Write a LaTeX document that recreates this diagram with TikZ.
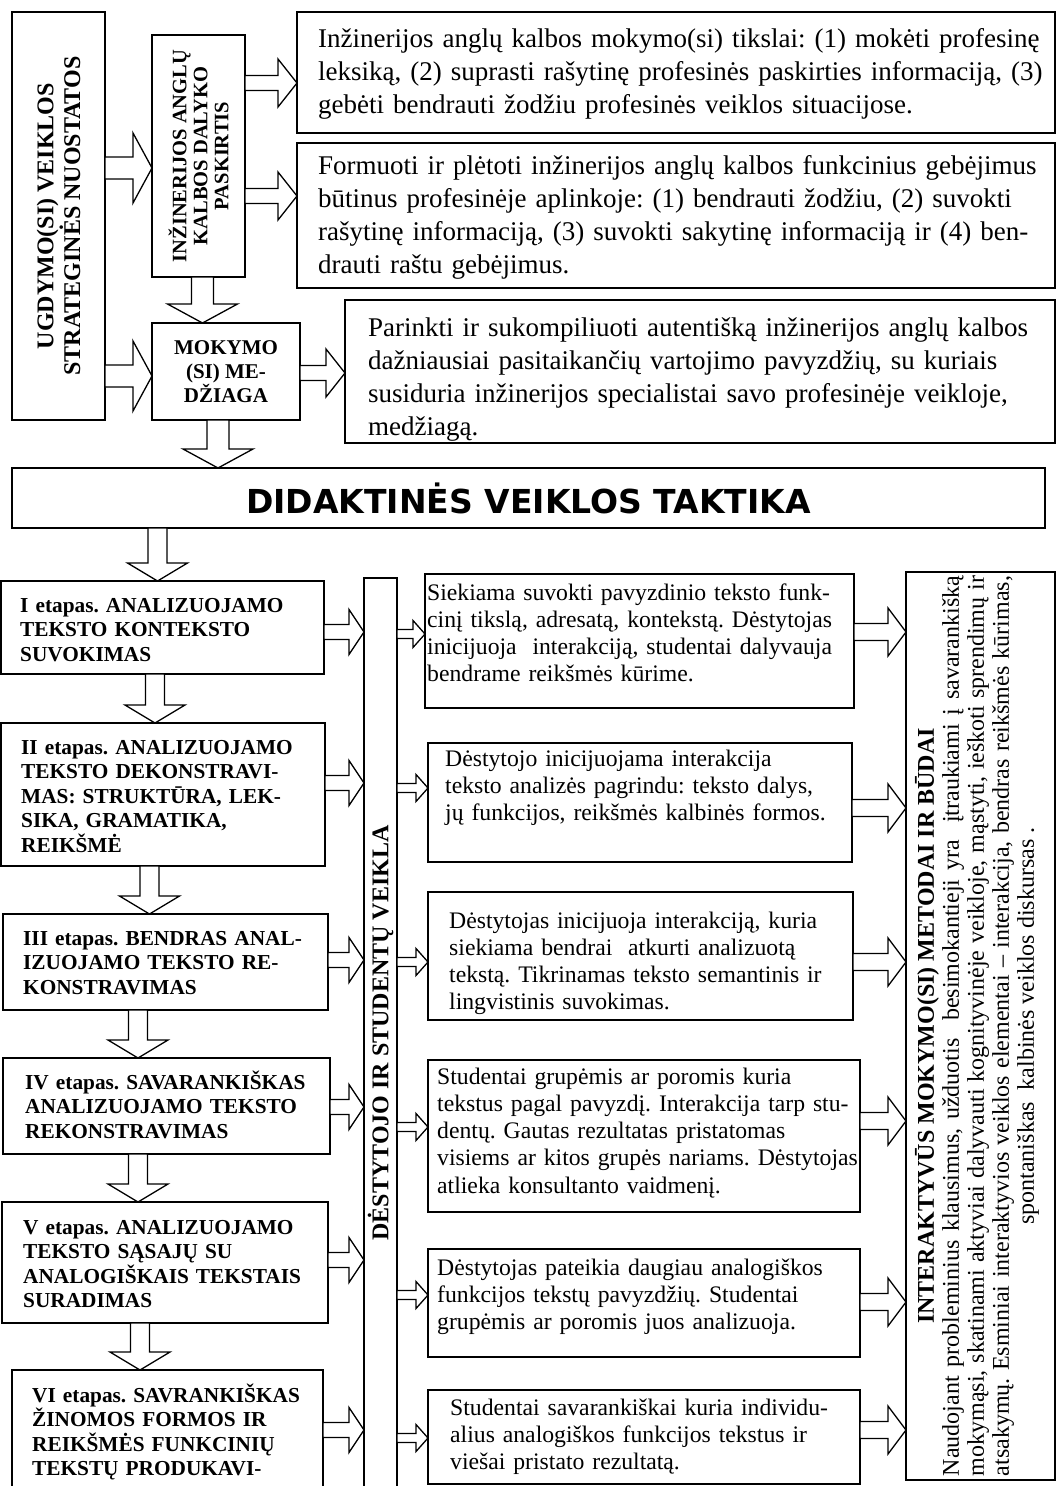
\documentclass[tikz,border=0pt]{standalone}
\usepackage{fontspec}
\setmainfont{Liberation Serif}
\newfontfamily\headfont{DejaVu Sans}
\usetikzlibrary{calc,fit}
\frenchspacing

\tikzset{
  frame/.style={draw, line width=1.4pt, inner sep=0pt, outer sep=0pt},
  body/.style={anchor=base west, inner sep=0pt, align=left},
  toptext/.style={body, text width=745pt, font=\fontsize{27}{33}\selectfont},
  stagetext/.style={body, text width=315pt, font=\bfseries\fontsize{21.3}{24.5}\selectfont},
  steptext/.style={body, text width=440pt, font=\fontsize{23.7}{27.3}\selectfont},
  sidelabel/.style={rotate=90, align=center, inner sep=0pt},
  barrow/.style n args={3}{draw, line width=1.3pt, fill=white,
    to path={($(\tikztotarget)!#3!(\tikztostart)$) coordinate (ah)
      ($(\tikztostart)!#1!90:(\tikztotarget)$) -- ($(ah)!#1!90:(\tikztotarget)$)
      -- ($(ah)!#2!90:(\tikztotarget)$) -- (\tikztotarget)
      -- ($(ah)!#2!-90:(\tikztotarget)$) -- ($(ah)!#1!-90:(\tikztotarget)$)
      -- ($(\tikztostart)!#1!-90:(\tikztotarget)$) -- cycle}},
  bigarrow/.style={barrow={11pt}{35pt}{19pt}},
  midarrow/.style={barrow={7.5pt}{24pt}{19pt}},
  downarrow/.style={barrow={9.5pt}{30pt}{18pt}},
  sidearrow/.style={barrow={7.5pt}{22.5pt}{15pt}},
  smallarrow/.style={barrow={4.5pt}{13.5pt}{12pt}},
  rightarrow/.style={barrow={8.5pt}{24pt}{18pt}},
}

\begin{document}
\begin{tikzpicture}[x=1pt, y=-1pt]
  \useasboundingbox (0,0) rectangle (1058,1486);
  \clip (0,0) rectangle (1058,1486);

  % strategic part
  \node[frame, fit={(12,12) (105,420)}] (ugd) {};
  \node[frame, fit={(152,35) (245,277)}] (ang) {};
  \node[frame, fit={(297,12) (1055,133)}] (goal) {};
  \node[frame, fit={(297,143) (1055,288)}] (skill) {};
  \node[frame, fit={(152,323) (300,420)}] (mok) {};
  \node[frame, fit={(345,300) (1055,443)}] (mat) {};
  \node[frame, fit={(12,468) (1045,528)}] (did) {};

  \node[sidelabel, font=\bfseries\fontsize{24}{23}\selectfont] (ugd-txt) at (ugd)
    {UGDYMO(SI) VEIKLOS\\STRATEGINĖS NUOSTATOS};
  \node[sidelabel, font=\bfseries\fontsize{20.5}{21}\selectfont] (ang-txt) at (ang)
    {INŽINERIJOS ANGLŲ\\KALBOS DALYKO\\PASKIRTIS};
  \node[toptext] (goal-txt) at (318,47)
    {Inžinerijos anglų kalbos mokymo(si) tikslai: (1) mokėti profesinę\\
     leksiką, (2) suprasti rašytinę profesinės paskirties informaciją, (3)\\
     gebėti bendrauti žodžiu profesinės veiklos situacijose.};
  \node[toptext] (skill-txt) at (318,174)
    {Formuoti ir plėtoti inžinerijos anglų kalbos funkcinius gebėjimus\\
     būtinus profesinėje aplinkoje: (1) bendrauti žodžiu, (2) suvokti\\
     rašytinę informaciją, (3) suvokti sakytinę informaciją ir (4) ben-\\
     drauti raštu gebėjimus.};
  \node[align=center, inner sep=0pt, font=\bfseries\fontsize{21}{24}\selectfont] (mok-txt) at (mok)
    {MOKYMO\\(SI) ME-\\DŽIAGA};
  \node[toptext] (mat-txt) at (368,336)
    {Parinkti ir sukompiliuoti autentišką inžinerijos anglų kalbos\\
     dažniausiai pasitaikančių vartojimo pavyzdžių, su kuriais\\
     susiduria inžinerijos specialistai savo profesinėje veikloje,\\
     medžiagą.};
  \node[font=\headfont\bfseries\fontsize{33}{38}\selectfont] (did-txt) at (did)
    {DIDAKTINĖS VEIKLOS TAKTIKA};

  \draw[bigarrow] (ugd.east |- 0,168) to (ang.west |- 0,168);
  \draw[bigarrow] (ugd.east |- 0,376) to (mok.west |- 0,376);
  \draw[midarrow] (ang.east |- 0,83) to (goal.west |- 0,83);
  \draw[midarrow] (ang.east |- 0,196) to (skill.west |- 0,196);
  \draw[bigarrow] (ang.south -| 202.5,0) to (mok.north -| 202.5,0);
  \draw[midarrow] (mok.east |- 0,373) to (mat.west |- 0,373);
  \draw[bigarrow] (mok.south -| 218,0) to (did.north -| 218,0);

  % stages
  \node[frame, fit={(1,581) (324,674)}] (st1) {};
  \node[frame, fit={(1,723) (325,866)}] (st2) {};
  \node[frame, fit={(3,914) (328,1010)}] (st3) {};
  \node[frame, fit={(3,1058) (330,1154)}] (st4) {};
  \node[frame, fit={(2,1202) (328,1323)}] (st5) {};
  \node[frame, fit={(12,1370) (323,1500)}] (st6) {};

  \node[stagetext] (st1-txt) at (20,612)
    {I etapas. ANALIZUOJAMO\\TEKSTO KONTEKSTO\\SUVOKIMAS};
  \node[stagetext] (st2-txt) at (21,754)
    {II etapas. ANALIZUOJAMO\\TEKSTO DEKONSTRAVI-\\MAS: STRUKTŪRA, LEK-\\SIKA, GRAMATIKA,\\REIKŠMĖ};
  \node[stagetext] (st3-txt) at (23,945)
    {III etapas. BENDRAS ANAL-\\IZUOJAMO TEKSTO RE-\\KONSTRAVIMAS};
  \node[stagetext] (st4-txt) at (25,1089)
    {IV etapas. SAVARANKIŠKAS\\ANALIZUOJAMO TEKSTO\\REKONSTRAVIMAS};
  \node[stagetext] (st5-txt) at (23,1234)
    {V etapas. ANALIZUOJAMO\\TEKSTO SĄSAJŲ SU\\ANALOGIŠKAIS TEKSTAIS\\SURADIMAS};
  \node[stagetext] (st6-txt) at (32,1402)
    {VI etapas. SAVRANKIŠKAS\\ŽINOMOS FORMOS IR\\REIKŠMĖS FUNKCINIŲ\\TEKSTŲ PRODUKAVI-};

  \draw[downarrow] (did.south -| 157.5,0) to (st1.north -| 157.5,0);
  \draw[downarrow] (st1.south -| 155,0) to (st2.north -| 155,0);
  \draw[downarrow] (st2.south -| 149.5,0) to (st3.north -| 149.5,0);
  \draw[downarrow] (st3.south -| 138,0) to (st4.north -| 138,0);
  \draw[downarrow] (st4.south -| 138,0) to (st5.north -| 138,0);
  \draw[downarrow] (st5.south -| 140,0) to (st6.north -| 140,0);

  % teacher and students
  \node[frame, fit={(364,578) (397,1500)}] (col) {};
  \node[sidelabel, font=\bfseries\fontsize{24}{26}\selectfont] (col-txt) at (380.5,1033)
    {DĖSTYTOJO IR STUDENTŲ VEIKLA};

  \draw[sidearrow] (st1.east |- 0,632) to (col.west |- 0,632);
  \draw[sidearrow] (st2.east |- 0,783) to (col.west |- 0,783);
  \draw[sidearrow] (st3.east |- 0,960) to (col.west |- 0,960);
  \draw[sidearrow] (st4.east |- 0,1107) to (col.west |- 0,1107);
  \draw[sidearrow] (st5.east |- 0,1260) to (col.west |- 0,1260);
  \draw[sidearrow] (st6.east |- 0,1430) to (col.west |- 0,1430);

  \node[frame, fit={(425,574) (854,708)}] (r1) {};
  \node[frame, fit={(428,743) (852,862)}] (r2) {};
  \node[frame, fit={(428,892) (853,1020)}] (r3) {};
  \node[frame, fit={(428,1060) (860,1212)}] (r4) {};
  \node[frame, fit={(428,1249) (860,1357)}] (r5) {};
  \node[frame, fit={(428,1390) (860,1484)}] (r6) {};

  \node[steptext] (r1-txt) at (427,600)
    {Siekiama suvokti pavyzdinio teksto funk-\\
     cinį tikslą, adresatą, kontekstą. Dėstytojas\\
     inicijuoja\ \ interakciją, studentai dalyvauja\\
     bendrame reikšmės kūrime.};
  \node[steptext] (r2-txt) at (445,766)
    {Dėstytojo inicijuojama interakcija\\
     teksto analizės pagrindu: teksto dalys,\\
     jų funkcijos, reikšmės kalbinės formos.};
  \node[steptext] (r3-txt) at (449,928)
    {Dėstytojas inicijuoja interakciją, kuria\\
     siekiama bendrai\ \ atkurti analizuotą\\
     tekstą. Tikrinamas teksto semantinis ir\\
     lingvistinis suvokimas.};
  \node[steptext] (r4-txt) at (437,1084)
    {Studentai grupėmis ar poromis kuria\\
     tekstus pagal pavyzdį. Interakcija tarp stu-\\
     dentų. Gautas rezultatas pristatomas\\
     visiems ar kitos grupės nariams. Dėstytojas\\
     atlieka konsultanto vaidmenį.};
  \node[steptext] (r5-txt) at (437,1275)
    {Dėstytojas pateikia daugiau analogiškos\\
     funkcijos tekstų pavyzdžių. Studentai\\
     grupėmis ar poromis juos analizuoja.};
  \node[steptext] (r6-txt) at (450,1415)
    {Studentai savarankiškai kuria individu-\\
     alius analogiškos funkcijos tekstus ir\\
     viešai pristato rezultatą.};

  \draw[smallarrow] (col.east |- 0,634) to (r1.west |- 0,634);
  \draw[smallarrow] (col.east |- 0,788) to (r2.west |- 0,788);
  \draw[smallarrow] (col.east |- 0,962) to (r3.west |- 0,962);
  \draw[smallarrow] (col.east |- 0,1127) to (r4.west |- 0,1127);
  \draw[smallarrow] (col.east |- 0,1295) to (r5.west |- 0,1295);
  \draw[smallarrow] (col.east |- 0,1438) to (r6.west |- 0,1438);

  % methods
  \node[frame, fit={(906,572) (1055,1480)}] (meth) {};
  \node[sidelabel, font=\fontsize{24}{25}\selectfont] (meth-txt) at (977,1026)
    {{\bfseries INTERAKTYVŪS MOKYMO(SI) METODAI IR BŪDAI}\\
     \makebox[900pt][s]{Naudojant probleminius klausimus, užduotis\ \ besimokantieji yra\ \ įtraukiami į savarankišką}\\
     \makebox[900pt][s]{mokymąsi, skatinami aktyviai dalyvauti kognityvinėje veikloje, mąstyti, ieškoti sprendimų ir}\\
     \makebox[900pt][s]{atsakymų. Esminiai interaktyvios veiklos elementai – interakcija, bendras reikšmės kūrimas,}\\
     spontaniškas\ \ kalbinės veiklos diskursas .};

  \draw[rightarrow] (r1.east |- 0,632) to (meth.west |- 0,632);
  \draw[rightarrow] (r2.east |- 0,808) to (meth.west |- 0,808);
  \draw[rightarrow] (r3.east |- 0,962) to (meth.west |- 0,962);
  \draw[rightarrow] (r4.east |- 0,1121) to (meth.west |- 0,1121);
  \draw[rightarrow] (r5.east |- 0,1302) to (meth.west |- 0,1302);
  \draw[rightarrow] (r6.east |- 0,1430) to (meth.west |- 0,1430);
\end{tikzpicture}
\end{document}
